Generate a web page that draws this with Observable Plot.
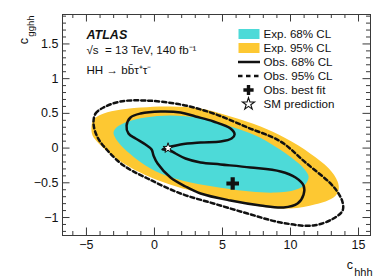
<!DOCTYPE html>
<html><head><meta charset="utf-8">
<script src="https://cdn.jsdelivr.net/npm/d3@7"></script>
<script src="https://cdn.jsdelivr.net/npm/@observablehq/plot@0.6"></script>
<style>body{margin:0;background:#fff}</style>
</head><body><div id="chart"></div>
<script>
// Expected 95% CL contour (c_hhh, c_gghh)
const exp95 = [[-4.63,0.30],[-4.48,0.41],[-3.96,0.48],[-2.86,0.54],[-1.02,0.585],[1.18,0.60],[3.39,0.57],[5.59,0.455],[7.80,0.31],[9.64,0.14],[11.47,-0.08],[12.80,-0.29],[13.46,-0.48],[13.53,-0.61],[13.16,-0.71],[11.84,-0.81],[10.0,-0.87],[7.80,-0.84],[5.59,-0.755],[3.39,-0.65],[1.55,-0.55],[-0.29,-0.42],[-1.76,-0.28],[-3.08,-0.11],[-4.11,0.07],[-4.55,0.18]];
// Expected 68% CL contour
const exp68 = [[-3.01,0.225],[-2.71,0.31],[-1.98,0.38],[-0.66,0.44],[1.18,0.47],[3.39,0.43],[5.59,0.31],[7.43,0.18],[8.90,0.02],[10.15,-0.15],[10.96,-0.29],[11.33,-0.41],[11.10,-0.52],[10.37,-0.60],[8.90,-0.64],[7.06,-0.625],[4.86,-0.57],[2.65,-0.495],[0.81,-0.395],[-0.66,-0.25],[-1.76,-0.09],[-2.64,0.08]];
// Observed 68% CL contour
const obs68 = [[0.59,-0.02],[1.92,0.052],[3.39,0.081],[4.86,0.095],[5.67,0.138],[5.89,0.196],[5.59,0.282],[4.34,0.383],[3.02,0.455],[1.92,0.513],[0.45,0.527],[-1.02,0.498],[-1.76,0.441],[-2.05,0.325],[-1.91,0.210],[-1.39,0.138],[-0.66,0.052],[-0.21,-0.02],[-0.07,-0.107],[0.23,-0.222],[1.18,-0.424],[2.28,-0.553],[3.39,-0.654],[5.59,-0.755],[7.80,-0.827],[9.49,-0.855],[10.52,-0.798],[10.96,-0.67],[10.96,-0.539],[10.37,-0.424],[9.27,-0.337],[7.06,-0.279],[4.86,-0.236],[3.39,-0.207],[2.28,-0.15],[1.55,-0.078],[1.11,-0.03]];
// Observed 95% CL contour
const obs95 = [[-4.48,0.354],[-4.33,0.498],[-3.74,0.585],[-2.49,0.671],[-0.66,0.685],[1.92,0.628],[4.34,0.498],[6.84,0.297],[9.27,0.095],[11.10,-0.207],[12.94,-0.51],[13.53,-0.654],[13.83,-0.783],[13.83,-0.899],[13.16,-1.014],[11.69,-1.115],[9.27,-1.071],[6.84,-0.942],[4.34,-0.798],[1.92,-0.654],[-0.51,-0.438],[-2.27,-0.251],[-3.45,-0.035],[-4.18,0.153]];
const bestFit = [[5.75,-0.51]];
const smPoint = [[1,0]];
const xTickLabels = [-5,0,5,10,15];
const yTickLabels = [-1,-0.5,0,0.5,1,1.5];
const xMinor = d3.range(-6,16,1);
const yMinor = d3.range(-12,20,1).map(v=>v/10);
const legendLabels = ["Exp. 68% CL","Exp. 95% CL","Obs. 68% CL","Obs. 95% CL","Obs. best fit","SM prediction"];

const C_CYAN = "#4ddad8", C_YEL = "#fdc832", INK = "#111", AX = "#3a3a3a";
const W = 390, H = 280, mL = 62, mT = 14, mR = 20, mB = 45;
const iW = W - mL - mR, iH = H - mT - mB;
const X = d => d[0], Y = d => d[1];
const fmt = d => (d < 0 ? "\u2212" : "") + Math.abs(d);
const rectSym = {draw(c){ c.rect(-10.5,-5,21,10); }};
const lineSym = {draw(c){ c.moveTo(-11,0); c.lineTo(11,0); }};

const ticks = (len) => [
  Plot.tickX(len.x, {x: d=>d, insetTop: iH - len.l, stroke: AX}),
  Plot.tickX(len.x, {x: d=>d, insetBottom: iH - len.l, stroke: AX}),
  Plot.tickY(len.y, {y: d=>d, insetRight: iW - len.l, stroke: AX}),
  Plot.tickY(len.y, {y: d=>d, insetLeft: iW - len.l, stroke: AX})
];

const legendMarks = [];
const rowDy = i => 19.5 + 14*i;
legendMarks.push(Plot.dot([0], {frameAnchor:"top-left", dx:186.5, dy:rowDy(0), symbol: rectSym, fill: C_CYAN, stroke: "none"}));
legendMarks.push(Plot.dot([0], {frameAnchor:"top-left", dx:186.5, dy:rowDy(1), symbol: rectSym, fill: C_YEL, stroke: "none"}));
legendMarks.push(Plot.dot([0], {frameAnchor:"top-left", dx:186.5, dy:rowDy(2), symbol: lineSym, fill: "none", stroke: INK, strokeWidth: 2.5}));
legendMarks.push(Plot.dot([0], {frameAnchor:"top-left", dx:186.5, dy:rowDy(3), symbol: lineSym, fill: "none", stroke: INK, strokeWidth: 2.5, strokeDasharray: "4.5,3.5"}));
legendMarks.push(Plot.dot([0], {frameAnchor:"top-left", dx:186, dy:rowDy(4), symbol: "cross", r: 4.3, fill: INK, stroke: "none"}));
legendMarks.push(Plot.dot([0], {frameAnchor:"top-left", dx:186, dy:rowDy(5), symbol: "star", r: 3.8, fill: "white", stroke: INK, strokeWidth: 1.1}));
legendLabels.forEach((t,i) => legendMarks.push(Plot.text([t], {frameAnchor:"top-left", dx:201, dy:rowDy(i), text: d=>d, textAnchor:"start", lineAnchor:"middle", fontSize: 11.6, fill: INK})));

const chart = Plot.plot({
  width: W, height: H,
  marginLeft: mL, marginTop: mT, marginRight: mR, marginBottom: mB,
  style: {fontFamily: "'Liberation Sans', Arial, Helvetica, sans-serif", fontSize: "12.5px", background: "white", color: INK},
  x: {domain: [-6.76, 15.88]},
  y: {domain: [-1.259, 1.924]},
  marks: [
    Plot.line(exp95, {x: X, y: Y, curve: "catmull-rom-closed", fill: C_YEL, stroke: "none"}),
    Plot.line(exp68, {x: X, y: Y, curve: "catmull-rom-closed", fill: C_CYAN, stroke: "none"}),
    Plot.line(obs95, {x: X, y: Y, curve: "catmull-rom-closed", fill: "none", stroke: INK, strokeWidth: 2.5, strokeDasharray: "4,3"}),
    Plot.line(obs68, {x: X, y: Y, curve: "catmull-rom-closed", fill: "none", stroke: INK, strokeWidth: 2.5}),
    Plot.dot(bestFit, {x: X, y: Y, symbol: "cross", r: 5.3, fill: INK, stroke: "none"}),
    Plot.dot(smPoint, {x: X, y: Y, symbol: "star", r: 3.2, fill: "white", stroke: INK, strokeWidth: 1}),
    Plot.frame({stroke: AX, strokeWidth: 1}),
    ...ticks({x: xTickLabels, y: yTickLabels, l: 7.5}),
    ...ticks({x: xMinor.filter(v=>!xTickLabels.includes(v)), y: yMinor.filter(v=>!yTickLabels.some(t=>Math.abs(t-v)<1e-9)), l: 4}),
    Plot.axisX({ticks: xTickLabels, tickFormat: fmt, tickSize: 0, tickPadding: 5, label: null, fontSize: 12.5}),
    Plot.axisY({ticks: yTickLabels, tickFormat: fmt, tickSize: 0, tickPadding: 4, label: null, fontSize: 12.5}),
    // axis titles
    Plot.text(["hhh"], {frameAnchor:"bottom-right", dx:2, dy:40, text:d=>d, textAnchor:"end", lineAnchor:"bottom", fontSize:11, fill: INK}),
    Plot.text(["c"], {frameAnchor:"bottom-right", dx:-17.5, dy:33, text:d=>d, textAnchor:"end", lineAnchor:"bottom", fontSize:12.5, fill: INK}),
    Plot.text(["gghh"], {frameAnchor:"top-left", dx:-29, dy:1, rotate:-90, text:d=>d, textAnchor:"end", lineAnchor:"bottom", fontSize:9.5, fill: INK}),
    Plot.text(["c"], {frameAnchor:"top-left", dx:-34.5, dy:23.5, rotate:-90, text:d=>d, textAnchor:"end", lineAnchor:"bottom", fontSize:12.5, fill: INK}),
    // annotations
    Plot.text(["ATLAS"], {frameAnchor:"top-left", dx:24, dy:20.5, text:d=>d, textAnchor:"start", lineAnchor:"middle", fontSize:12.5, fontWeight:"bold", fontStyle:"italic", fill: INK}),
    Plot.text(["\u221as  = 13 TeV, 140 fb\u207b\u00b9"], {frameAnchor:"top-left", dx:24, dy:36, text:d=>d, textAnchor:"start", lineAnchor:"middle", fontSize:11.6, fill: INK}),
    Plot.text(["HH \u2192 bb\u0304\u03c4\u207a\u03c4\u207b"], {frameAnchor:"top-left", dx:24, dy:55.5, text:d=>d, textAnchor:"start", lineAnchor:"middle", fontSize:11.6, fill: INK}),
    ...legendMarks
  ]
});
document.getElementById("chart").appendChild(chart);
</script>
</body></html>
